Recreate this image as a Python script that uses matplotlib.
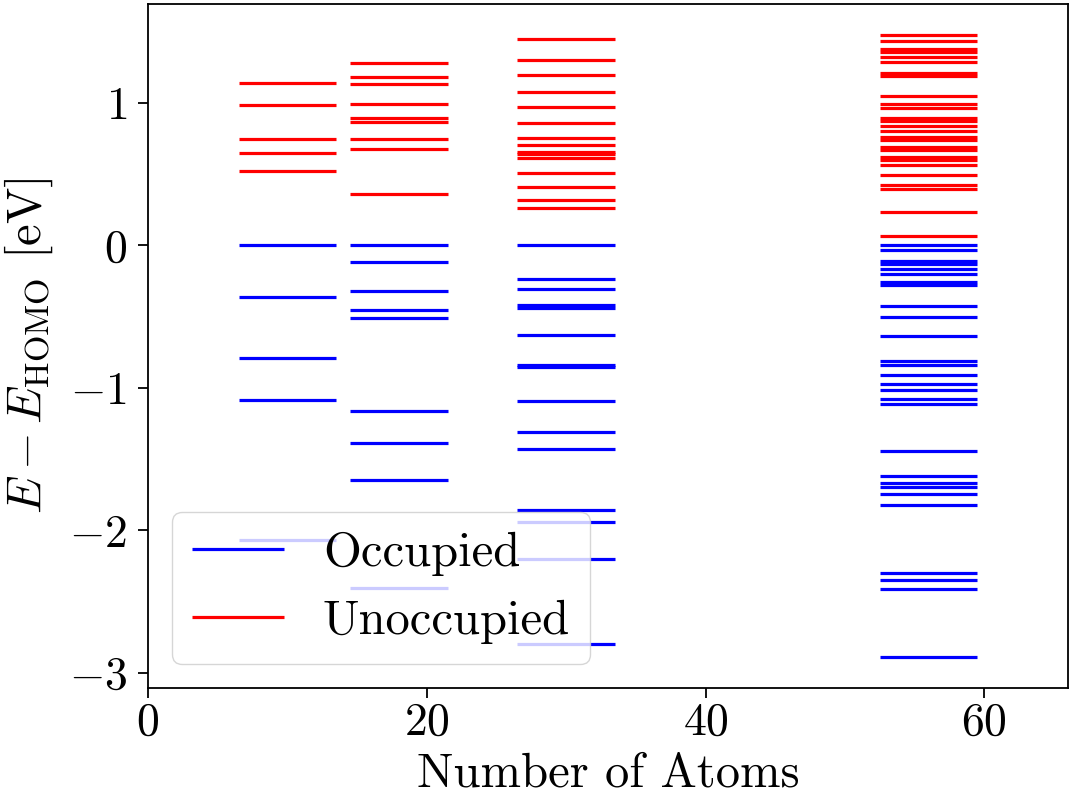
import numpy as np
import matplotlib
matplotlib.use("Agg")
import matplotlib.pyplot as plt
from matplotlib.ticker import MultipleLocator

plt.rcParams["font.family"] = "serif"
plt.rcParams["font.serif"] = ["cmr10"]
plt.rcParams["mathtext.fontset"] = "cm"
plt.rcParams["axes.formatter.use_mathtext"] = True
plt.rcParams["font.size"] = 35

# cluster sizes and their orbital energies relative to the HOMO (eV)
n_atoms = [10, 18, 30, 56]

occ_10 = [0.0, -0.366, -0.790, -1.084, -2.068]
unocc_10 = [1.138, 0.986, 0.746, 0.648, 0.520]

occ_18 = [0.0, -0.114, -0.324, -0.457, -0.513, -1.166, -1.387, -1.646, -2.403]
unocc_18 = [1.280, 1.177, 1.131, 0.991, 0.893, 0.865, 0.744, 0.674, 0.357]

occ_30 = [0.0, -0.240, -0.305, -0.422, -0.441, -0.629, -0.837, -0.855,
          -1.091, -1.308, -1.429, -1.855, -1.939, -2.203, -2.797]
unocc_30 = [1.445, 1.298, 1.196, 1.075, 0.970, 0.858, 0.750, 0.706, 0.655,
            0.640, 0.611, 0.508, 0.410, 0.319, 0.259]

occ_56 = [0.0, -0.035, -0.110, -0.128, -0.166, -0.203, -0.257, -0.280,
          -0.427, -0.501, -0.636, -0.809, -0.837, -0.907, -0.974, -1.012,
          -1.079, -1.112, -1.443, -1.620, -1.671, -1.699, -1.744, -1.825,
          -2.296, -2.345, -2.415, -2.888]
unocc_56 = [1.473, 1.431, 1.378, 1.359, 1.322, 1.289, 1.207, 1.186, 1.049,
            0.993, 0.963, 0.895, 0.874, 0.839, 0.804, 0.762, 0.741, 0.692,
            0.667, 0.622, 0.599, 0.562, 0.492, 0.420, 0.392, 0.233, 0.065]

occupied = [occ_10, occ_18, occ_30, occ_56]
unoccupied = [unocc_10, unocc_18, unocc_30, unocc_56]

fig = plt.figure(figsize=(10.76, 7.96), dpi=100)
ax = fig.add_axes([0.1375, 0.1357, 0.855, 0.859])

w = 3.5
for i, n in enumerate(n_atoms):
    ax.hlines(occupied[i], n - w, n + w, colors="b", lw=2.3,
              label="Occupied" if i == 0 else None)
    ax.hlines(unoccupied[i], n - w, n + w, colors="r", lw=2.3,
              label="Unoccupied" if i == 0 else None)

ax.set_xlim(0, max(n_atoms) + 10)
ax.xaxis.set_major_locator(MultipleLocator(20))
ax.yaxis.set_major_locator(MultipleLocator(1))
ax.set_xlabel("Number of Atoms", labelpad=6)
ax.set_ylabel(r"$E - E_\mathrm{HOMO}$ [eV]", labelpad=10)
ax.tick_params(labelsize=33, length=7, width=1.3)
ax.tick_params(axis="y", pad=8)
for s in ax.spines.values():
    s.set_linewidth(1.3)
ax.legend(loc="lower left", handlelength=1.9)

fig.savefig("out.png", dpi=100)
